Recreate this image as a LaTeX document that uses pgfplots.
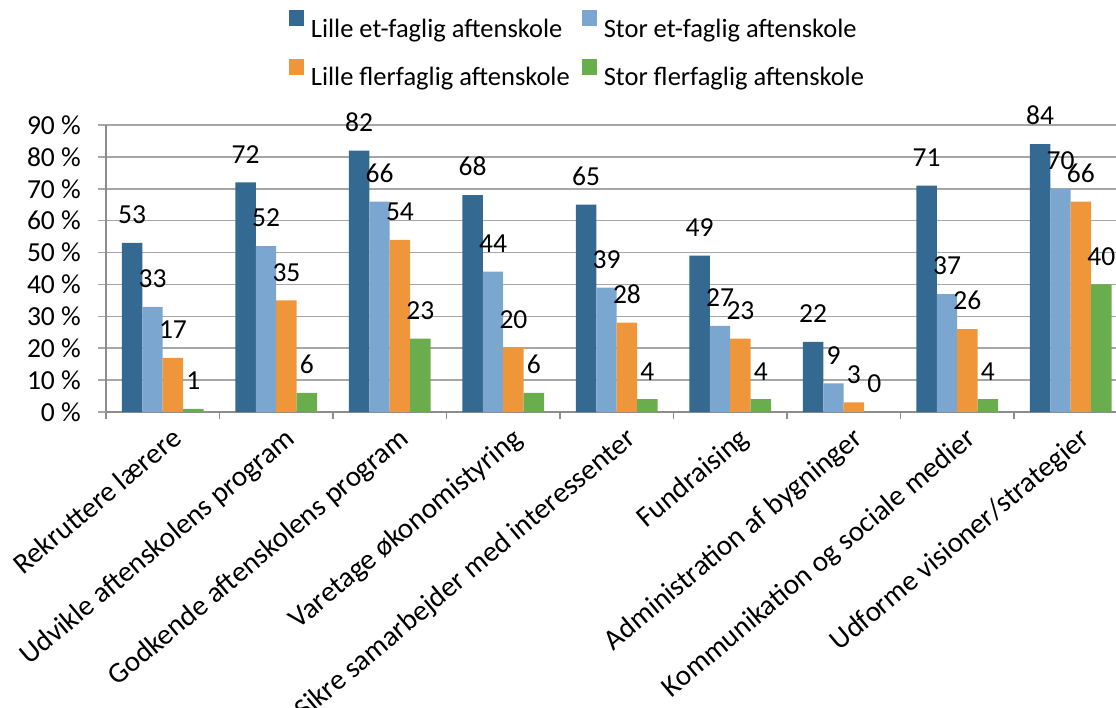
\documentclass[border=0pt]{standalone}
\usepackage{fontspec}
\setmainfont{Carlito}
\usepackage{pgfplots}
\pgfplotsset{compat=1.18}
\definecolor{lilleet}{HTML}{346A92}
\definecolor{storet}{HTML}{7AA6CF}
\definecolor{lillefler}{HTML}{F0963A}
\definecolor{storfler}{HTML}{6AAD4C}
\definecolor{gridgray}{HTML}{A6A6A6}
\newcommand\cf{\fontsize{27.5bp}{33bp}\selectfont}
\newcommand\catf{\fontsize{29bp}{35bp}\selectfont}
\newcommand\legf{\fontsize{26.5bp}{32bp}\selectfont}
\pgfplotsset{sq/.style={legend image code/.code={\fill[##1] (0bp,2.4bp) rectangle (15bp,18.4bp);}}}
\begin{document}
\begin{tikzpicture}
\begin{axis}[
  at={(0,0)}, anchor=south west,
  scale only axis, width=1010bp, height=287bp,
  ybar=0pt, bar width=20.4bp,
  xmin=-0.5, xmax=8.399, ymin=0, ymax=90,
  enlargelimits=false,
  /pgf/number format/assume math mode=true,
  axis x line*=bottom, axis y line*=left,
  axis line style={-, draw=gridgray!85!black, line width=1.6bp},
  ytick={0,10,...,90},
  yticklabel={\pgfmathprintnumber{\tick} \%},
  ymajorgrids, major grid style={draw=gridgray, line width=1.5bp},
  tick align=outside, major tick length=8bp, minor tick length=7bp,
  ytick style={draw=gridgray, line width=1.5bp},
  xtick={0,...,8},
  minor xtick={-0.5,0.5,...,7.5},
  major x tick style={draw=none},
  minor x tick style={draw=gridgray!85!black, line width=1.5bp},
  xticklabels={Rekruttere lærere, Udvikle aftenskolens program, Godkende aftenskolens program, Varetage økonomistyring, Sikre samarbejder med interessenter, Fundraising, Administration af bygninger, Kommunikation og sociale medier, Udforme visioner/strategier},
  xticklabel style={font=\catf, rotate=40, anchor=north east, inner sep=0pt, yshift=-9bp, xshift=2bp},
  yticklabel style={font=\cf, anchor=east, inner sep=0pt, xshift=-17bp},
  nodes near coords,
  every node near coord/.append style={font=\cf, anchor=south, inner sep=0pt, yshift=19bp, text=black},
  legend columns=2,
  legend cell align=left,
  legend style={draw=none, fill=none, font=\legf, at={(0.178,1.262)}, anchor=west,
    /tikz/every odd column/.append style={column sep=5bp},
    /tikz/every even column/.append style={column sep=10bp}, row sep=18bp},
]
\addplot[fill=lilleet, draw=none, sq] coordinates {(0,53) (1,72) (2,82) (3,68) (4,65) (5,49) (6,22) (7,71) (8,84)};
\addlegendentry{Lille et-faglig aftenskole}
\addplot[fill=storet, draw=none, sq] coordinates {(0,33) (1,52) (2,66) (3,44) (4,39) (5,27) (6,9) (7,37) (8,70)};
\addlegendentry{Stor et-faglig aftenskole}
\addplot[fill=lillefler, draw=none, sq] coordinates {(0,17) (1,35) (2,54) (3,20) (4,28) (5,23) (6,3) (7,26) (8,66)};
\addlegendentry{Lille flerfaglig aftenskole}
\addplot[fill=storfler, draw=none, sq] coordinates {(0,1) (1,6) (2,23) (3,6) (4,4) (5,4) (6,0) (7,4) (8,40)};
\addlegendentry{Stor flerfaglig aftenskole}
\end{axis}
\pgfresetboundingbox
\useasboundingbox (-106bp,-296bp) rectangle (1010bp,412bp);
\end{tikzpicture}
\end{document}
